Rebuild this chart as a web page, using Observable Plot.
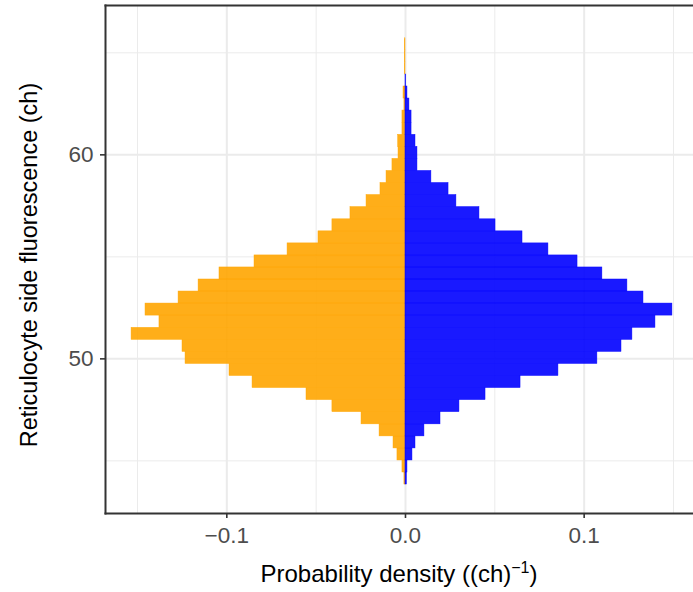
<!DOCTYPE html>
<html>
<head>
<meta charset="utf-8">
<script src="https://cdn.jsdelivr.net/npm/d3@7"></script>
<script src="https://cdn.jsdelivr.net/npm/@observablehq/plot@0.6"></script>
<style>
  html, body { margin: 0; padding: 0; background: #fff; }
  #chart svg { display: block; }
</style>
</head>
<body>
<div id="chart"></div>
<script>
// Histogram bin edges of reticulocyte side fluorescence (ch), bottom to top
const binEdges = [
  43.84, 44.43, 45.02, 45.61, 46.20, 46.79, 47.39, 47.98, 48.57, 49.16,
  49.75, 50.34, 50.93, 51.52, 52.12, 52.71, 53.30, 53.89, 54.48, 55.07,
  55.66, 56.25, 56.84, 57.44, 58.03, 58.62, 59.21, 59.80, 60.39, 60.98,
  61.57, 62.17, 62.76, 63.35, 63.94, 64.53, 65.12, 65.71
];

// Probability density per bin ((ch)^-1), drawn to the left of zero
const orangeDensity = [
  0.0006, 0.0017, 0.0045, 0.0067, 0.0145, 0.0246, 0.0409, 0.0554, 0.0856, 0.0985,
  0.1231, 0.1248, 0.1533, 0.1377, 0.1455, 0.1270, 0.1158, 0.1041, 0.0845, 0.0660,
  0.0487, 0.0409, 0.0308, 0.0218, 0.0140, 0.0106, 0.0073, 0.0039, 0.0041, 0.0017,
  0.0017, 0.0006, 0.0011, 0.0000, 0.0004, 0.0004, 0.0004
];

// Probability density per bin ((ch)^-1), drawn to the right of zero
const blueDensity = [
  0.0008, 0.0011, 0.0039, 0.0056, 0.0106, 0.0196, 0.0302, 0.0448, 0.0644, 0.0856,
  0.1074, 0.1209, 0.1270, 0.1399, 0.1494, 0.1332, 0.1242, 0.1102, 0.0963, 0.0800,
  0.0655, 0.0504, 0.0414, 0.0285, 0.0241, 0.0145, 0.0067, 0.0067, 0.0056, 0.0034,
  0.0034, 0.0022, 0.0011, 0.0004, 0.0000, 0.0000, 0.0000
];

// Axis ticks and grid positions
const xTicks = [-0.1, 0.0, 0.1];
const xMinor = [-0.15, -0.05, 0.05, 0.15];
const yTicks = [50, 60];
const yMinor = [45, 55, 65];

const orangeBins = orangeDensity.map((d, i) => ({y1: binEdges[i], y2: binEdges[i + 1], x: -d}));
const blueBins = blueDensity.map((d, i) => ({y1: binEdges[i], y2: binEdges[i + 1], x: d}));

const gridColor = "#EBEBEB";
const axisColor = "#333333";
const fontFamily = "'Liberation Sans', Arial, Helvetica, sans-serif";

const chart = Plot.plot({
  width: 693,
  height: 592,
  marginLeft: 105,
  marginRight: 0,
  marginTop: 5,
  marginBottom: 79,
  style: {fontFamily, fontSize: "22.5px", background: "#fff"},
  x: {domain: [-0.1679, 0.1612], label: null},
  y: {domain: [42.42, 67.32], label: null},
  marks: [
    // panel grid
    Plot.ruleX(xMinor, {stroke: gridColor, strokeWidth: 1}),
    Plot.ruleY(yMinor, {stroke: gridColor, strokeWidth: 1}),
    Plot.ruleX(xTicks, {stroke: gridColor, strokeWidth: 2}),
    Plot.ruleY(yTicks, {stroke: gridColor, strokeWidth: 2}),
    // back-to-back histogram
    Plot.rectX(orangeBins, {
      x1: 0, x2: "x", y1: "y1", y2: "y2",
      fill: "orange", fillOpacity: 0.9,
      stroke: "orange", strokeOpacity: 0.9, strokeWidth: 0.5
    }),
    Plot.rectX(blueBins, {
      x1: 0, x2: "x", y1: "y1", y2: "y2",
      fill: "blue", fillOpacity: 0.9,
      stroke: "blue", strokeOpacity: 0.9, strokeWidth: 0.5
    }),
    // panel border: left, bottom and top
    Plot.frame({anchor: "left", stroke: axisColor, strokeWidth: 2}),
    Plot.frame({anchor: "bottom", stroke: axisColor, strokeWidth: 2}),
    Plot.frame({anchor: "top", stroke: axisColor, strokeWidth: 2}),
    // axes
    Plot.axisX(xTicks, {
      tickFormat: d3.format(".1f"), tickSize: 5, tickPadding: 9,
      stroke: axisColor, strokeWidth: 1.6, fill: "#4D4D4D", label: null
    }),
    Plot.axisY(yTicks, {
      tickSize: 5, tickPadding: 7,
      stroke: axisColor, strokeWidth: 1.6, fill: "#4D4D4D", label: null
    })
  ]
});

document.getElementById("chart").appendChild(chart);

// Axis titles, centred on the panel
const xr = chart.scale("x").range;
const yr = chart.scale("y").range;
const svg = d3.select(chart);

const xTitle = svg.append("text")
  .attr("x", (xr[0] + xr[1]) / 2)
  .attr("y", 582)
  .attr("text-anchor", "middle")
  .attr("font-family", fontFamily)
  .attr("font-size", 24)
  .attr("fill", "#000");
xTitle.append("tspan").text("Probability density ((ch)");
xTitle.append("tspan").attr("dy", -9).attr("font-size", 16).text("\u22121");
xTitle.append("tspan").attr("dy", 9).text(")");

svg.append("text")
  .attr("transform", `translate(37,${(yr[0] + yr[1]) / 2 + 6}) rotate(-90)`)
  .attr("text-anchor", "middle")
  .attr("font-family", fontFamily)
  .attr("font-size", 23.5)
  .attr("fill", "#000")
  .text("Reticulocyte side fluorescence (ch)");
</script>
</body>
</html>
